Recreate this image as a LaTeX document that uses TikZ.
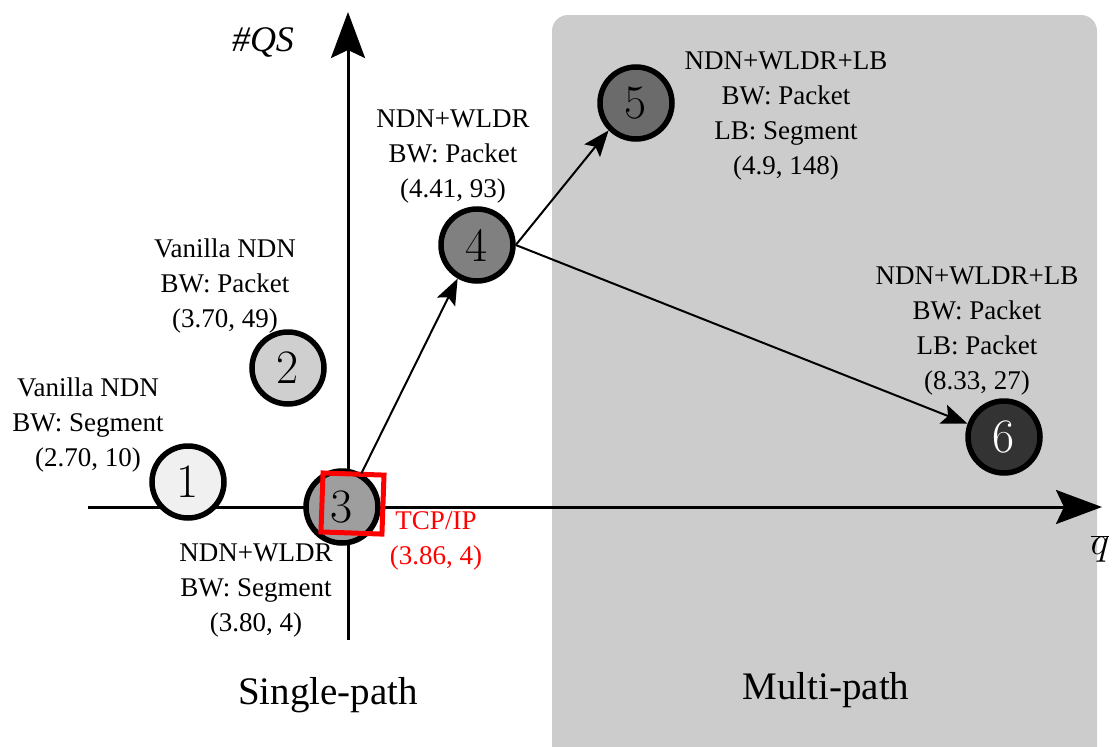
\RequirePackage{fix-cm}
\documentclass[tikz,border=0pt]{standalone}
\usepackage{fontspec}
\setmainfont{Liberation Serif}
\newfontfamily\digitfont{Latin Modern Roman}
\usetikzlibrary{arrows.meta}
\definecolor{zone}{HTML}{CCCCCC}
\begin{document}
\begin{tikzpicture}[x=1pt,y=-1pt,
  axis/.style={line width=3pt,-{Stealth[length=46pt,width=34pt,inset=8pt]}},
  link/.style={line width=2pt,-{Stealth[length=26pt,width=20pt,inset=5pt]}},
  ballnode/.style={circle,draw=black,line width=5.5pt,minimum size=72pt,inner sep=0pt,
    font=\digitfont\fontsize{48}{48}\selectfont},
  note/.style={align=center,font=\fontsize{27}{35}\selectfont,inner sep=0pt},
  region/.style={font=\fontsize{39}{44}\selectfont,inner sep=0pt}]
\useasboundingbox (0,0) rectangle (1114,747);
% multi-path zone
\fill[zone,rounded corners=16pt] (552,15) rectangle (1097,780);
% axes
\coordinate (xs) at (88,507);
\coordinate (xe) at (1102,507);
\coordinate (ys) at (348,640);
\coordinate (ye) at (348,12);
\draw[axis] (xs) -- (xe);
\draw[axis] (ys) -- (ye);
\node[font=\itshape\fontsize{36}{36}\selectfont,inner sep=0pt] (qs) at (263,42) {\#QS};
\node[font=\fontsize{40}{40}\selectfont,inner sep=0pt] (qbar) at (1100,549) {$\overline{q}$};
% configurations
\node[ballnode,fill=black!6] (n1) at (188,482) {1};
\node[ballnode,fill=black!19] (n2) at (288,368) {2};
\node[ballnode,fill=black!38] (n3) at (342,507) {3};
\node[ballnode,fill=black!50] (n4) at (477,245) {4};
\node[ballnode,fill=black!58] (n5) at (636,103) {5};
\node[ballnode,fill=black!80,text=white] (n6) at (1004,437) {6};
% TCP/IP marker
\draw[red,line width=5pt,rotate around={-2:(352,503)}] (322,474) rectangle (383,533);
% labels
\node[note] (l1) at (88,425) {Vanilla NDN\\BW: Segment\\(2.70, 10)};
\node[note] (l2) at (225,286) {Vanilla NDN\\BW: Packet\\(3.70, 49)};
\node[note] (l3) at (256,591) {NDN+WLDR\\BW: Segment\\(3.80, 4)};
\node[note] (l4) at (453,157) {NDN+WLDR\\BW: Packet\\(4.41, 93)};
\node[note] (l5) at (786,116) {NDN+WLDR+LB\\BW: Packet\\LB: Segment\\(4.9, 148)};
\node[note] (l6) at (977,331) {NDN+WLDR+LB\\BW: Packet\\LB: Packet\\(8.33, 27)};
\node[note,text=red] (tcp) at (436,541) {TCP/IP\\(3.86, 4)};
% transitions
\draw[link] (n3.60) -- (n4.240);
\draw[link] (n4.east) -- (n5.225);
\draw[link] (n4.east) -- (n6.160);
% regions
\node[region] (sp) at (328,695) {Single-path};
\node[region] (mp) at (826,690) {Multi-path};
\end{tikzpicture}
\end{document}
